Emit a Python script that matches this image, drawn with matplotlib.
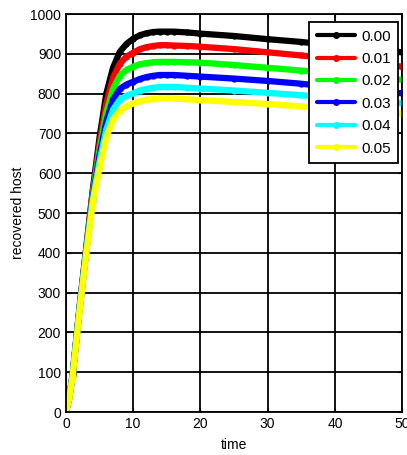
import matplotlib
matplotlib.use("Agg")
import matplotlib.pyplot as plt

plt.rcParams['font.family'] = ['Liberation Sans', 'DejaVu Sans']

t = [0, 0.5, 1, 2, 3, 4, 5, 6, 7, 8, 9, 10, 11, 12, 13, 14, 15, 16, 18, 20, 25, 30, 35, 40, 45, 50]
labels = ["0.00", "0.01", "0.02", "0.03", "0.04", "0.05"]
colors = ["black", "red", "#00ff00", "blue", "cyan", "yellow"]
black = [0, 38, 95, 260, 410, 560, 690, 800, 865, 905, 925, 938, 947, 952, 955, 956, 956, 956, 954, 951, 945, 937, 930, 921, 912, 904]
red = [0, 38, 94, 258, 407, 553, 675, 775, 840, 875, 893, 903, 912, 917, 920, 922, 922, 921, 920, 918, 912, 904, 896, 887, 877, 868]
green = [0, 37, 93, 256, 404, 546, 660, 752, 812, 845, 860, 868, 874, 877, 879, 880, 880, 880, 879, 878, 872, 865, 858, 850, 842, 835]
blue = [0, 37, 92, 254, 401, 540, 645, 730, 785, 812, 823, 830, 837, 842, 845, 847, 847, 847, 845, 843, 838, 832, 825, 816, 808, 801]
cyan = [0, 36, 91, 252, 398, 534, 630, 710, 760, 785, 795, 801, 808, 812, 815, 817, 817, 817, 815, 813, 808, 802, 796, 789, 782, 776]
yellow = [0, 36, 90, 250, 395, 528, 615, 690, 735, 757, 768, 776, 781, 785, 787, 788, 788, 788, 786, 784, 779, 774, 768, 762, 756, 750]
series = [black, red, green, blue, cyan, yellow]

fig = plt.figure(figsize=(4.07, 4.55), dpi=100)
ax = fig.add_axes([0.162, 0.0945, 0.826, 0.8745])
for y, c, lab in zip(series, colors, labels):
    ax.plot(t, y, color=c, lw=4.5, marker='.', ms=7, label=lab, solid_capstyle='round')

ax.set_xlim(0, 50)
ax.set_ylim(0, 1000)
ax.set_xticks(range(0, 51, 10))
ax.set_yticks(range(0, 1001, 100))
ax.grid(True, color='black', lw=1.3)
ax.tick_params(direction='in', labelsize=10, length=3, top=True, right=True)
for s in ax.spines.values():
    s.set_linewidth(1.3)
ax.set_xlabel("time", fontsize=10, labelpad=5)
ax.set_ylabel("recovered host", fontsize=10, labelpad=4)

leg = ax.legend(loc='upper right', bbox_to_anchor=(1.0, 0.99), fontsize=11, numpoints=1,
                fancybox=False, framealpha=1, edgecolor='black', handlelength=2.5,
                borderpad=0.5, labelspacing=0.55, handletextpad=0.4, borderaxespad=0.25)
for line in leg.get_lines():
    line.set_linewidth(3)
    line.set_markersize(8)
leg.get_frame().set_linewidth(1.3)

fig.savefig("out.png", dpi=100)
